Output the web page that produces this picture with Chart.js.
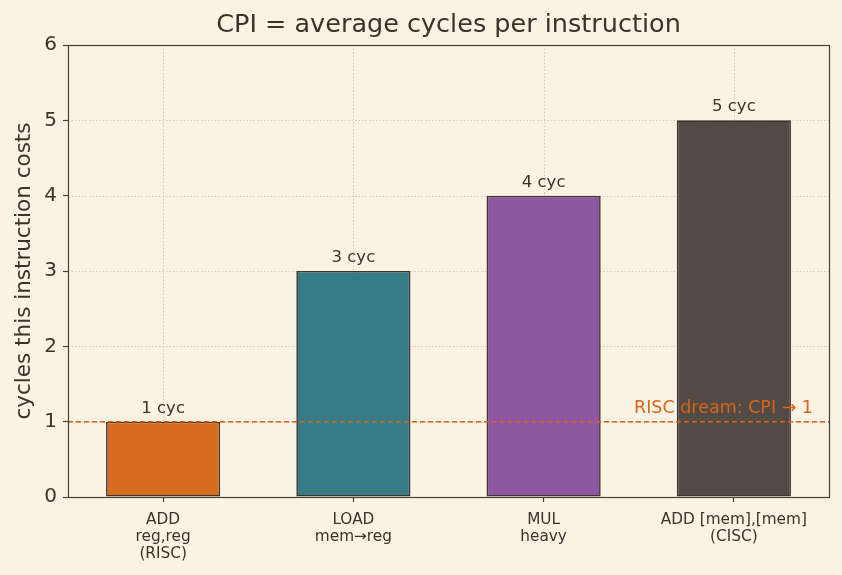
<!DOCTYPE html>
<html><head><meta charset="utf-8">
<script src="https://cdn.jsdelivr.net/npm/chart.js@4.4.0/dist/chart.umd.min.js"></script>
<style>html,body{margin:0;padding:0;background:#faf2e3;}#wrap{width:842px;height:575px;}</style>
</head><body><div id="wrap"><canvas id="c" width="842" height="575"></canvas></div>
<script>
const categories = [["ADD","reg,reg","(RISC)"],["LOAD","mem\u2192reg"],["MUL","heavy"],["ADD [mem],[mem]","(CISC)"]];
const cycles = [1, 3, 4, 5];
const valueLabels = ["1 cyc","3 cyc","4 cyc","5 cyc"];
const barColors = ["rgba(212,98,18,0.93)","rgba(40,114,127,0.93)","rgba(132,76,156,0.93)","rgba(74,64,61,0.95)"];
const yTicks = [0,1,2,3,4,5,6];
const riscTarget = 1;
const riscText = "RISC dream: CPI \u2192 1";
const titleText = "CPI = average cycles per instruction";
const yTitle = "cycles this instruction costs";

const ink = "#3b322c";
const F = "'DejaVu Sans', sans-serif";

const deco = {
  id: 'deco',
  beforeDraw(chart) {
    const c = chart.ctx;
    c.save();
    c.fillStyle = '#faf2e3';
    c.fillRect(0,0,chart.width,chart.height);
    c.restore();
  },
  beforeDatasetsDraw(chart) {
    const c = chart.ctx, a = chart.chartArea, x = chart.scales.x, y = chart.scales.y;
    c.save();
    c.strokeStyle = 'rgba(150,140,125,0.55)';
    c.lineWidth = 0.8;
    c.setLineDash([1.5,2]);
    yTicks.forEach(v => {
      const py = Math.round(y.getPixelForValue(v)) + 0.5;
      c.beginPath(); c.moveTo(a.left, py); c.lineTo(a.right, py); c.stroke();
    });
    categories.forEach((_, i) => {
      const px = Math.round(x.getPixelForValue(i)) + 0.5;
      c.beginPath(); c.moveTo(px, a.top); c.lineTo(px, a.bottom); c.stroke();
    });
    c.restore();
  },
  afterDatasetsDraw(chart) {
    const c = chart.ctx, a = chart.chartArea, x = chart.scales.x, y = chart.scales.y;
    c.save();
    const py = y.getPixelForValue(riscTarget);
    c.strokeStyle = '#d5651c';
    c.lineWidth = 1.5;
    c.setLineDash([5,3]);
    c.beginPath(); c.moveTo(a.left, py); c.lineTo(a.right, py); c.stroke();
    c.setLineDash([]);
    c.fillStyle = '#d5651c';
    c.font = "17.5px " + F;
    c.textAlign = 'right'; c.textBaseline = 'alphabetic';
    c.fillText(riscText, a.right - 16, py - 9);
    c.fillStyle = ink;
    c.font = "16.5px " + F;
    c.textAlign = 'center'; c.textBaseline = 'alphabetic';
    cycles.forEach((v, i) => {
      c.fillText(valueLabels[i], x.getPixelForValue(i), y.getPixelForValue(v) - 9);
    });
    c.strokeStyle = '#4a4038';
    c.lineWidth = 1.2;
    c.strokeRect(a.left + 0.5, a.top + 0.5, a.right - a.left, a.bottom - a.top);
    c.fillStyle = ink;
    c.font = "25.5px " + F;
    c.textAlign = 'center'; c.textBaseline = 'middle';
    c.fillText(titleText, (a.left + a.right) / 2, 25);
    c.translate(24, (a.top + a.bottom) / 2);
    c.rotate(-Math.PI / 2);
    c.font = "21.5px " + F;
    c.fillText(yTitle, 0, 0);
    c.restore();
  }
};

new Chart(document.getElementById('c'), {
  type: 'bar',
  data: {
    labels: categories,
    datasets: [{
      data: cycles,
      backgroundColor: barColors,
      borderColor: '#3d332d',
      borderWidth: 1.6,
      borderSkipped: false,
      barPercentage: 0.6,
      categoryPercentage: 1.0
    }]
  },
  options: {
    responsive: false,
    animation: false,
    devicePixelRatio: 1,
    layout: { padding: { top: 45, right: 13, left: 0, bottom: 0 } },
    plugins: { legend: { display: false }, title: { display: false }, tooltip: { enabled: false } },
    scales: {
      x: {
        offset: true,
        grid: { offset: false, drawOnChartArea: false, drawTicks: true, tickLength: 5, tickColor: '#4a4038', tickWidth: 1.2 },
        border: { display: false },
        ticks: { color: ink, font: { family: F, size: 15.3, lineHeight: 1.12 }, padding: 9, maxRotation: 0, autoSkip: false },
        afterFit(s) { s.height = 78; }
      },
      y: {
        min: 0, max: 6,
        grid: { drawOnChartArea: false, drawTicks: true, tickLength: 5, tickColor: '#4a4038', tickWidth: 1.2 },
        border: { display: false },
        ticks: { stepSize: 1, color: ink, font: { family: F, size: 20 }, padding: 6 },
        afterFit(s) { s.width = 68; }
      }
    }
  },
  plugins: [deco]
});
</script>
</body></html>
